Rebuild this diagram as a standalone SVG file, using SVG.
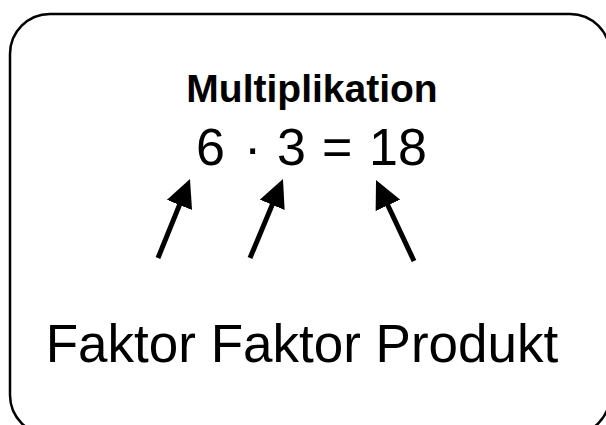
<svg xmlns="http://www.w3.org/2000/svg" width="606" height="425" viewBox="0 0 606 425">
<style>
.box{fill:#fff;stroke:#000;stroke-width:2.5}
.t{font-family:"Liberation Sans",Arial,Helvetica,sans-serif;fill:#000}
.title{font-weight:bold;font-size:39px}
.eq{font-size:52px}
.lbl{font-size:53px}
.arrow{stroke:#000;stroke-width:5;fill:none;marker-end:url(#head)}
</style>
<defs>
<marker id="head" markerUnits="userSpaceOnUse" viewBox="0 0 28 27" markerWidth="28" markerHeight="27" refX="20" refY="13.5" orient="auto">
<path d="M0,0 L28,13.5 L0,27 Z" fill="#000"/>
</marker>
</defs>
<rect width="606" height="425" fill="#fff"/>
<g id="card">
<rect class="box" x="10" y="14" width="600" height="421" rx="40" ry="40"/>
</g>
<g id="title">
<text class="t title" x="312" y="102" text-anchor="middle">Multiplikation</text>
</g>
<g id="equation">
<text class="t eq" y="165"><tspan x="196">6 </tspan><tspan x="244">· </tspan><tspan x="277">3 </tspan><tspan x="322">= </tspan><tspan x="369">18</tspan></text>
</g>
<g id="labels">
<text class="t lbl" x="302" y="362" text-anchor="middle">Faktor Faktor Produkt</text>
</g>
<g id="connectors">
<line class="arrow" x1="158" y1="258" x2="187" y2="186.4"/>
<line class="arrow" x1="250" y1="258" x2="279.9" y2="186.4"/>
<line class="arrow" x1="414" y1="261" x2="379.4" y2="187.2"/>
</g>
</svg>
